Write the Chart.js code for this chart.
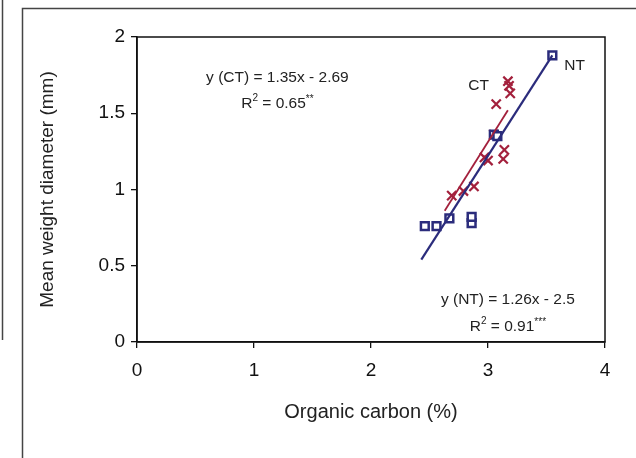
<!DOCTYPE html>
<html>
<head>
<meta charset="utf-8">
<script src="https://cdn.jsdelivr.net/npm/chart.js@4"></script>
<style>
  html, body { margin: 0; padding: 0; background: #fff; }
  #wrap { width: 636px; height: 458px; position: relative; }
</style>
</head>
<body>
<div id="wrap"><canvas id="chart" width="636" height="458"></canvas></div>
<script>
// Organic carbon (%) vs mean weight diameter (mm)
const ntCarbon = [2.46, 2.56, 2.67, 2.86, 2.86, 3.05, 3.08, 3.55];
const ntMwd    = [0.76, 0.76, 0.81, 0.78, 0.82, 1.36, 1.35, 1.88];

const ctCarbon = [2.69, 2.79, 2.88, 3.0, 2.97, 3.05, 3.13, 3.14, 3.07, 3.17, 3.18, 3.19];
const ctMwd    = [0.96, 0.99, 1.02, 1.19, 1.21, 1.36, 1.2, 1.26, 1.56, 1.71, 1.68, 1.63];

// regression line ends as drawn in the figure
const ntFitX = [2.43, 3.55];
const ntFitY = [0.54, 1.88];
const ctFitX = [2.63, 3.17];
const ctFitY = [0.86, 1.52];

const xTicks = [0, 1, 2, 3, 4];
const yTicks = [0, 0.5, 1, 1.5, 2];

const NAVY = '#2b2c7c';
const RED = '#a3203c';
const FONT = 'Liberation Sans, Arial, sans-serif';

function pairs(xs, ys) {
    return xs.map((x, i) => ({ x: x, y: ys[i] }));
}

// text notes placed in data units
const notes = [
    { text: 'y (CT) = 1.35x - 2.69', x: 1.2, y: 1.73 },
    { text: 'R', sup: '2', rest: ' = 0.65', stars: '**', x: 1.2, y: 1.56 },
    { text: 'y (NT) = 1.26x - 2.5', x: 3.17, y: 0.28 },
    { text: 'R', sup: '2', rest: ' = 0.91', stars: '***', x: 3.17, y: 0.1 },
    { text: 'CT', x: 2.92, y: 1.68 },
    { text: 'NT', x: 3.74, y: 1.81 }
];

const frame = {
    id: 'frame',
    beforeDraw(chart) {
        const c = chart.ctx;
        c.save();
        c.fillStyle = '#fff';
        c.fillRect(0, 0, chart.width, chart.height);
        c.strokeStyle = '#444';
        c.lineWidth = 1.5;
        c.beginPath();
        c.moveTo(2.5, 0);
        c.lineTo(2.5, 340);
        c.moveTo(22.5, 458);
        c.lineTo(22.5, 8.5);
        c.lineTo(636, 8.5);
        c.stroke();
        c.restore();
    },
    afterDatasetsDraw(chart) {
        const c = chart.ctx;
        const a = chart.chartArea;
        const xs = chart.scales.x, ys = chart.scales.y;
        c.save();
        c.strokeStyle = '#111';
        c.lineWidth = 1.5;
        c.strokeRect(a.left, a.top, a.right - a.left, a.bottom - a.top);
        c.fillStyle = '#222';
        c.textBaseline = 'middle';
        notes.forEach(n => {
            const px = xs.getPixelForValue(n.x);
            const py = ys.getPixelForValue(n.y);
            c.font = '15.5px ' + FONT;
            if (!n.sup) {
                c.textAlign = 'center';
                c.fillText(n.text, px, py);
                return;
            }
            const wR = c.measureText(n.text).width;
            const wRest = c.measureText(n.rest).width;
            c.font = '10px ' + FONT;
            const wSup = c.measureText(n.sup).width;
            const wStars = c.measureText(n.stars).width;
            let x0 = px - (wR + wSup + wRest + wStars) / 2;
            c.textAlign = 'left';
            c.font = '15.5px ' + FONT;
            c.fillText(n.text, x0, py);
            x0 += wR;
            c.font = '10px ' + FONT;
            c.fillText(n.sup, x0, py - 6);
            x0 += wSup;
            c.font = '15.5px ' + FONT;
            c.fillText(n.rest, x0, py);
            x0 += wRest;
            c.font = '10px ' + FONT;
            c.fillText(n.stars, x0, py - 5);
        });
        c.restore();
    }
};

new Chart(document.getElementById('chart').getContext('2d'), {
    type: 'scatter',
    data: {
        datasets: [
            {
                label: 'NT fit',
                data: pairs(ntFitX, ntFitY),
                showLine: true,
                borderColor: NAVY,
                borderWidth: 2.2,
                pointRadius: 0
            },
            {
                label: 'CT fit',
                data: pairs(ctFitX, ctFitY),
                showLine: true,
                borderColor: RED,
                borderWidth: 1.8,
                pointRadius: 0
            },
            {
                label: 'NT',
                data: pairs(ntCarbon, ntMwd),
                pointStyle: 'rect',
                pointRadius: 5.5,
                borderColor: NAVY,
                backgroundColor: '#fff',
                borderWidth: 2.5
            },
            {
                label: 'CT',
                data: pairs(ctCarbon, ctMwd),
                pointStyle: 'crossRot',
                pointRadius: 6.5,
                borderColor: RED,
                borderWidth: 2.2
            }
        ]
    },
    options: {
        responsive: false,
        animation: false,
        layout: { padding: { top: 37, right: 31, left: 0, bottom: 0 } },
        plugins: { legend: { display: false }, tooltip: { enabled: false } },
        scales: {
            x: {
                type: 'linear',
                min: 0, max: 4,
                afterBuildTicks: s => { s.ticks = xTicks.map(v => ({ value: v })); },
                afterFit: s => { s.height = 116; },
                grid: { drawOnChartArea: false, tickLength: 6, color: '#111', lineWidth: 1.3 },
                border: { display: true, color: '#111', width: 1.5 },
                ticks: { color: '#111', font: { family: FONT, size: 19 }, padding: 11, callback: v => String(v) },
                title: {
                    display: true,
                    text: 'Organic carbon (%)',
                    color: '#222',
                    font: { family: FONT, size: 20 },
                    padding: { top: 0, bottom: 34 }
                }
            },
            y: {
                type: 'linear',
                min: 0, max: 2,
                afterBuildTicks: s => { s.ticks = yTicks.map(v => ({ value: v })); },
                afterFit: s => { s.width = 137; },
                grid: { drawOnChartArea: false, tickLength: 6, color: '#111', lineWidth: 1.3 },
                border: { display: true, color: '#111', width: 1.5 },
                ticks: { color: '#111', font: { family: FONT, size: 19 }, padding: 6, callback: v => String(v) },
                title: {
                    display: true,
                    text: 'Mean weight diameter (mm)',
                    color: '#222',
                    font: { family: FONT, size: 19 },
                    padding: { top: 36, bottom: 0 }
                }
            }
        }
    },
    plugins: [frame]
});
</script>
</body>
</html>
